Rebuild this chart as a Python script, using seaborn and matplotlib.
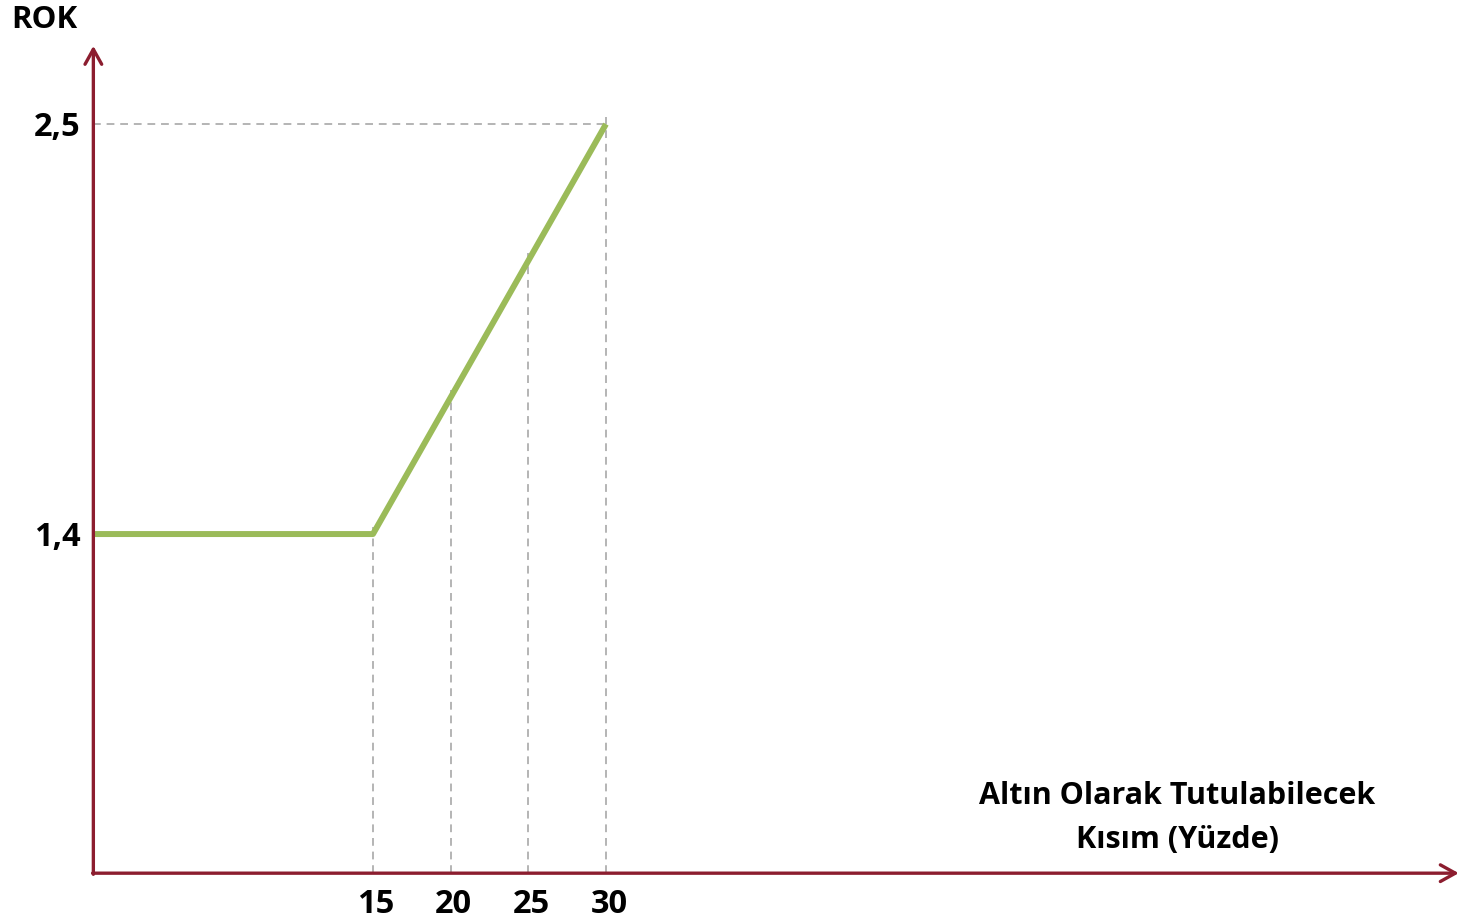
import numpy as np
import pandas as pd
import matplotlib
matplotlib.use("Agg")
import matplotlib.pyplot as plt
import seaborn as sns

# ---- data ----
x_points = [-3, 15, 30]          # leftmost point sits on the y axis
rok_values = [1.4, 1.4, 2.5]
x_ticks = [15, 20, 25, 30]
x_tick_labels = ["15", "20", "25", "30"]
y_ticks = [1.4, 2.5]
y_tick_labels = ["1,4", "2,5"]
y_title = "ROK"
x_title = "Altın Olarak Tutulabilecek\nKısım (Yüzde)"

sns.set_theme(style="white")
plt.rcParams['font.family'] = ['Open Sans', 'DejaVu Sans']

W, H = 1474, 922
fig = plt.figure(figsize=(W / 100, H / 100), dpi=100)
ax = fig.add_axes([0, 0, 1, 1])

# pixel -> data mapping limits
x_left, x_right = -9.01, 85.88
y_bottom, y_top = 0.359, 2.833
ax.set_xlim(x_left, x_right)
ax.set_ylim(y_bottom, y_top)
ax.axis("off")

x0, y0 = -3, 0.49          # axis origin
axis_col = "#8C1D2F"
green = "#9BBB59"
dash_col = "#B4B4B4"

df = pd.DataFrame({"x": x_points, "y": rok_values})

# dashed guides
for xt in x_ticks:
    top = np.interp(xt, x_points, rok_values)
    ax.plot([xt, xt], [y0, top + 0.02], ls=(0, (4, 3)), color=dash_col, lw=1.4, zorder=1)
ax.plot([x0, 30], [2.5, 2.5], ls=(0, (4, 3)), color=dash_col, lw=1.4, zorder=1)

sns.lineplot(data=df, x="x", y="y", ax=ax, color=green, lw=4.3, zorder=3,
             legend=False)
ax.lines[-1].set_solid_capstyle("butt")

# axes with open arrows
arrow_kw = dict(arrowstyle="->,head_length=0.9,head_width=0.5", color=axis_col,
                lw=2.4, shrinkA=0, shrinkB=0)
ax.annotate("", xy=(x0, 2.71), xytext=(x0, y0 - 0.003), arrowprops=arrow_kw, zorder=4)
ax.annotate("", xy=(84.9, y0), xytext=(x0 - 0.05, y0), arrowprops=arrow_kw, zorder=4)

# tick labels
for xt, lab in zip(x_ticks, x_tick_labels):
    ax.text(xt + 0.2, y0 - 0.04, lab, ha="center", va="top", fontsize=23.5,
            fontweight="bold", color="black")
for yt, lab in zip(y_ticks, y_tick_labels):
    ax.text(x0 - 0.8, yt - 0.01, lab, ha="right", va="center", fontsize=23.5,
            fontweight="bold", color="black")

ax.text(-8.3, 2.78, y_title, ha="left", va="center", fontsize=22.5,
        fontweight="bold", color="black")
ax.text(66.8, 0.638, x_title, ha="center", va="center", fontsize=22,
        fontweight="bold", color="black", linespacing=1.6)

fig.savefig("out.png", dpi=100)
